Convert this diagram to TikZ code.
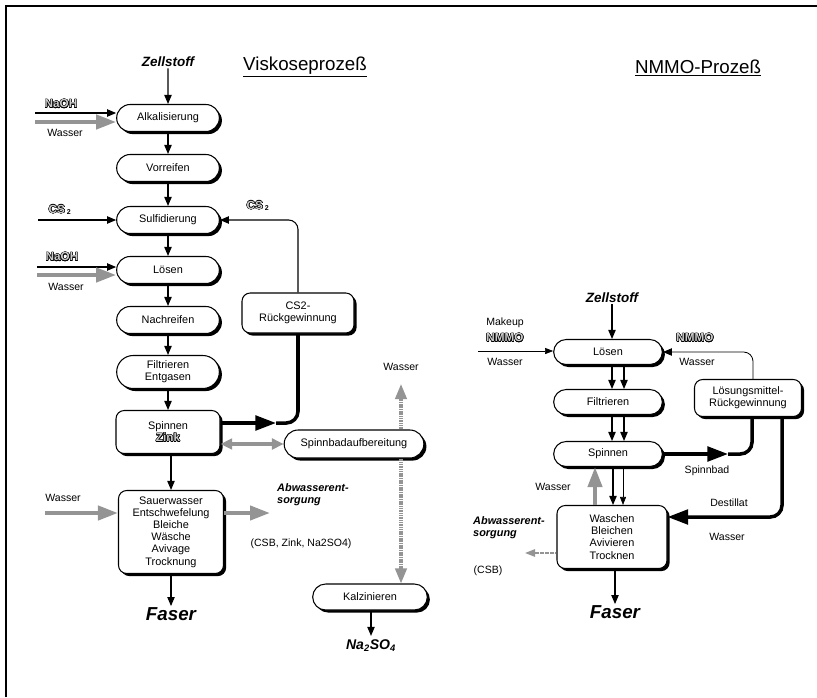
\documentclass[tikz,border=0pt]{standalone}
\usepackage{fontspec}
\setmainfont{Liberation Sans}
\usepackage{contour}
\contourlength{0.4pt}
\usetikzlibrary{arrows.meta,shapes.misc,shadows}

\newcommand{\hohl}[1]{\contour{black}{\textcolor{black!20}{\fontsize{10}{11}\selectfont\bfseries #1}}}

\tikzset{
  box/.style={draw, line width=0.9pt, fill=white, inner sep=1pt, align=center,
    drop shadow={shadow xshift=2.2pt, shadow yshift=-2.2pt, opacity=1, fill=black},
    font=\fontsize{9.3}{10.4}\selectfont},
  pille/.style={box, rounded rectangle, minimum width=3.15cm, minimum height=0.81cm},
  kasten/.style={box, rectangle, rounded corners=7pt, minimum width=3.15cm},
  lab/.style={font=\fontsize{9}{10.5}\selectfont, inner sep=1pt},
  abw/.style={font=\fontsize{9.3}{10.4}\selectfont\bfseries\itshape, align=left, inner sep=0pt},
  roh/.style={font=\fontsize{11.5}{13}\selectfont\bfseries\itshape, inner sep=1pt},
  produkt/.style={font=\fontsize{16}{18}\selectfont\bfseries\itshape, inner sep=1pt},
  titel/.style={font=\fontsize{16}{18}\selectfont},
  pfeil/.style={line width=0.9pt, -{Triangle[length=0.27cm,width=0.22cm]}},
  duenn/.style={line width=0.5pt, -{Triangle[length=0.24cm,width=0.18cm]}},
  dick/.style={line width=3pt},
  dickpfeil/.style={dick, -{Triangle[length=0.62cm,width=0.44cm]}},
  grau/.style={draw=black!42, line width=3.5pt, -{Triangle[length=0.6cm,width=0.42cm]}},
  graudoppel/.style={draw=black!42, line width=3.5pt,
    {Triangle[length=0.35cm,width=0.32cm]}-{Triangle[length=0.35cm,width=0.32cm]}},
  grauschmal/.style={draw=black!42, line width=2.6pt, dash pattern=on 1pt off 0.5pt,
    -{Triangle[length=0.45cm,width=0.34cm]}},
  graufein/.style={draw=black!42, line width=1.4pt, dash pattern=on 1.5pt off 0.6pt,
    -{Triangle[length=0.3cm,width=0.22cm]}}
}

\begin{document}
\begin{tikzpicture}[x=0.03cm, y=-0.03cm]
\useasboundingbox (0,0) rectangle (817,697);
\draw[line width=1.5pt] (6,697) -- (6,6) -- (817,6);

% Viskoseprozess
\node[titel] (visko) at (305,67) {\underline{Viskoseprozeß}};
\node[roh] (zell1) at (168,62) {Zellstoff};
\node[pille] (alk) at (168,118) {Alkalisierung};
\node[pille] (vor) at (168,168) {Vorreifen};
\node[pille] (sulf) at (168,220) {Sulfidierung};
\node[pille] (loes1) at (168,270) {Lösen};
\node[pille] (nach) at (168,320) {Nachreifen};
\node[pille, minimum height=0.99cm] (filt1) at (168,372) {Filtrieren\\Entgasen};
\node[kasten, minimum width=3.12cm, minimum height=1.29cm] (spin1) at (168,432) {Spinnen\\\hohl{Zink}};
\node[kasten, minimum height=2.49cm] (nachb) at (171,532)
  {Sauerwasser\\Entschwefelung\\Bleiche\\Wäsche\\Avivage\\Trocknung};
\node[produkt] (faser1) at (171,614) {Faser};

\draw[pfeil] (zell1) -- (alk);
\foreach \a/\b in {alk/vor, vor/sulf, sulf/loes1, loes1/nach, nach/filt1, filt1/spin1}
  \draw[pfeil] (\a.south) -- (\a.south |- \b.north);
\draw[pfeil] (nachb.north |- spin1.south) -- (nachb.north);
\draw[pfeil] (nachb.south) -- (nachb.south |- faser1.north);

% Zugaben links
\node[lab] (naoh1) at (61,104) {\hohl{NaOH}};
\node[lab] (was1) at (65,133) {Wasser};
\coordinate (e1) at (35,113);
\coordinate (e2) at (35,122);
\draw[pfeil] (e1) -- (e1 -| alk.west);
\draw[grau] (e2) -- (e2 -| alk.west);

\node[lab] (cs2a) at (60,210) {\hohl{CS}\,\textsubscript{\textbf{2}}};
\coordinate (e3) at (38,220);
\draw[pfeil] (e3) -- (e3 -| sulf.west);

\node[lab] (naoh2) at (62,257) {\hohl{NaOH}};
\node[lab] (was2) at (66,287) {Wasser};
\coordinate (e4) at (37,267);
\coordinate (e5) at (37,275);
\draw[pfeil] (e4) -- (e4 -| loes1.west);
\draw[grau] (e5) -- (e5 -| loes1.west);

% CS2-Kreislauf
\node[kasten, minimum width=3.36cm, minimum height=1.2cm] (cs2r) at (298,313) {CS2-\\Rückgewinnung};
\node[lab] (cs2b) at (258,206) {\hohl{CS}\,\textsubscript{\textbf{2}}};
\draw[pfeil, rounded corners=8pt] (cs2r.north) |- (sulf.east);
\coordinate (k1) at (276,423);
\draw[dickpfeil] (k1 -| spin1.east) -- (k1);
\draw[dick, rounded corners=10pt] (k1) -| (cs2r.south);

% Spinnbad
\node[pille, minimum width=4.26cm, minimum height=0.84cm] (spb) at (354,444) {Spinnbadaufbereitung};
\draw[graudoppel] (spin1.east |- spb.west) -- (spb.west);
\node[lab] (was3) at (401,367) {Wasser};
\coordinate (w3) at (401,384);
\draw[grauschmal] (spb.north -| w3) -- (w3);
\node[pille, minimum width=3.51cm, minimum height=0.78cm] (kalz) at (370,597) {Kalzinieren};
\draw[grauschmal] (spb.south -| w3) -- (kalz.north -| w3);
\node[font=\fontsize{12}{14}\selectfont\bfseries\itshape] (naso) at (371,646) {Na\textsubscript{2}SO\textsubscript{4}};
\draw[pfeil] (kalz.south -| naso) -- (naso.north);

% Abwasser links
\node[lab] (was4) at (63,498) {Wasser};
\coordinate (e6) at (45,513);
\draw[grau] (e6) -- (e6 -| nachb.west);
\coordinate (a1) at (270,513);
\draw[grau] (a1 -| nachb.east) -- (a1);
\node[abw, anchor=north west] (abw1) at (277,483) {Abwasserent-\\sorgung};
\node[lab] (csb1) at (301,544) {(CSB, Zink, Na2SO4)};

% NMMO-Prozess
\node[titel] (nmmo) at (698,68) {\underline{NMMO-Prozeß}};
\node[roh] (zell2) at (612,298) {Zellstoff};
\node[pille, minimum width=3.33cm, minimum height=0.75cm] (loes2) at (608,352) {Lösen};
\node[pille, minimum width=3.33cm, minimum height=0.75cm] (filt2) at (608,402) {Filtrieren};
\node[pille, minimum width=3.33cm, minimum height=0.75cm] (spin2) at (608,454) {Spinnen};
\node[kasten, minimum width=3.3cm, minimum height=1.89cm] (wasch) at (612,537)
  {Waschen\\Bleichen\\Avivieren\\Trocknen};
\node[kasten, minimum width=3.21cm, minimum height=1.11cm] (lmr) at (748,398)
  {Lösungsmittel-\\Rückgewinnung};
\node[produkt] (faser2) at (615,612) {Faser};

\draw[pfeil] (zell2) -- (zell2 |- loes2.north);
\foreach \x in {612,624} {
  \draw[pfeil] (loes2.south -| \x,0) -- (filt2.north -| \x,0);
  \draw[pfeil] (filt2.south -| \x,0) -- (spin2.north -| \x,0);
}
\draw[pfeil] (spin2.south -| 613,0) -- (wasch.north -| 613,0);
\draw[duenn] (spin2.south -| 623,0) -- (wasch.north -| 623,0);
\draw[grau] (wasch.north -| 595,0) -- (spin2.south -| 595,0);
\node[lab] (was5) at (553,487) {Wasser};
\draw[pfeil] (wasch.south -| faser2) -- (faser2.north);

% Zugabe links
\node[lab] (mk) at (505,323) {Makeup};
\node[lab] (nm1) at (505,338) {\hohl{NMMO}};
\node[lab] (was6) at (505,362) {Wasser};
\coordinate (e7) at (478,351);
\draw[duenn] (e7) -- (e7 -| loes2.west);

% Rueckfuehrung
\node[lab] (nm2) at (695,338) {\hohl{NMMO}};
\node[lab] (was7) at (697,362) {Wasser};
\draw[pfeil, line width=0.7pt, rounded corners=8pt] (lmr.north -| 753,0) |- (loes2.east);
\coordinate (k2) at (728,454);
\draw[dickpfeil] (spin2.east) -- (k2);
\draw[dick, rounded corners=10pt] (k2) -| (lmr.south -| 752,0);
\node[lab] (spbd) at (707,471) {Spinnbad};
\coordinate (d1) at (0,517);
\draw[dickpfeil, rounded corners=10pt] (lmr.south -| 782,0) |- (wasch.east |- d1);
\node[lab] (dest) at (729,503) {Destillat};
\node[lab] (was8) at (727,537) {Wasser};

% Abwasser rechts
\coordinate (a2) at (525,553);
\draw[graufein] (a2 -| wasch.west) -- (a2);
\node[abw, anchor=north west] (abw2) at (473,516) {Abwasserent-\\sorgung};
\node[lab] (csb2) at (488,571) {(CSB)};
\end{tikzpicture}
\end{document}
